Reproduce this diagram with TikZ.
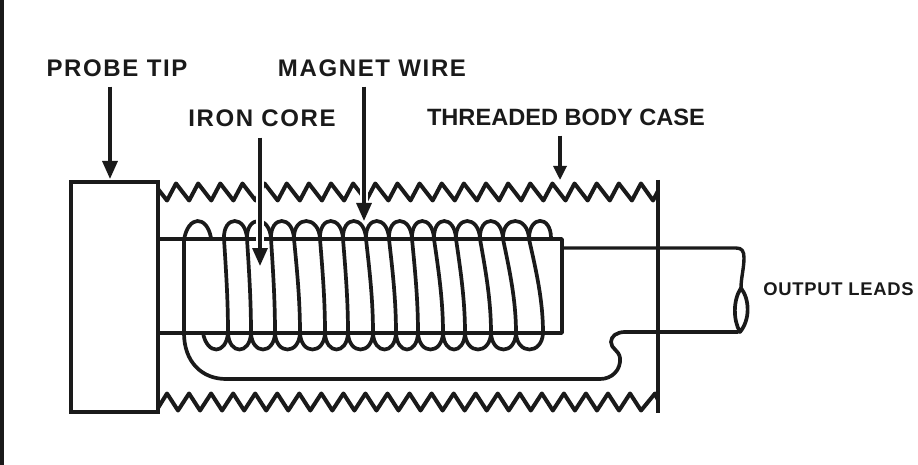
\documentclass[tikz,border=0pt]{standalone}
\usepackage{fontspec}
\setmainfont{Liberation Sans}
\usetikzlibrary{arrows.meta}
\definecolor{ink}{HTML}{1A1A1A}
\newfontfamily\lblfont[LetterSpace=6.8]{Liberation Sans Bold}
\newfontfamily\plainfont{Liberation Sans Bold}
\newfontfamily\smallfont[LetterSpace=4]{Liberation Sans Bold}
\tikzset{
  ptr/.style={draw=ink,line width=3.2pt,-{Triangle[length=18pt,width=15pt]}},
  halo/.style={draw=white,line width=8pt},
  wire/.style={draw=ink,line width=3.7pt,line cap=round,line join=round},
  body/.style={draw=ink,line width=4pt},
  thin wire/.style={draw=ink,line width=3.4pt,line join=round},
  tag/.style={text=ink,font=\lblfont\fontsize{24}{26}\selectfont,inner sep=0pt},
  plaintag/.style={text=ink,font=\plainfont\fontsize{23.6}{26}\selectfont,inner sep=0pt},
  smalltag/.style={text=ink,font=\smallfont\fontsize{18.4}{20}\selectfont,inner sep=0pt}
}
\begin{document}
\begin{tikzpicture}[x=1pt,y=-1pt]
\useasboundingbox (0,0) rectangle (918,465);
\fill[ink] (0,0) rectangle (4,465);
% threads
\draw[body,line join=round] (158,189)
  \foreach \i in {0,...,21} { -- ({167+22.14*\i},200.5) -- ({176+22.14*\i},183.5) } -- (653,200.5) -- (658,191);
\draw[body,line join=round] (158,408)
  \foreach \i in {0,...,21} { -- ({167+22.05*\i},393.5) -- ({178+22.05*\i},410.5) } -- (655,393.5) -- (658,400);
% core
\draw[thin wire] (158,239) -- (562,239) -- (562,333) -- (158,333);
% coil
\draw[wire] (211,238) .. controls (207,215) and (188,215) .. (184,240) -- (184,333)
  .. controls (184,362) and (202,379) .. (226,379) -- (600,379)
  .. controls (612,379) and (621,370) .. (620,358)
  .. controls (619,350) and (611,349) .. (611,342)
  .. controls (611,336) and (617,332) .. (625,332) -- (738,332);
\draw[wire] (203,333) .. controls (207,355) and (226,355) .. (228,333);
\foreach \a/\b/\c/\d in {224/228/247/251,247/251/271/275,271/275/294/300,294/300/320/325,320/325/343/348,343/348/366/373,366/373/389/396,389/396/412/418,412/418/434/443,434/443/456/465,456/465/480/491,480/491/503/516,503/516/529/543}{
  \draw[wire] (\c,239) .. controls (\c-1,215) and (\a-1,215) .. (\a,239)
    .. controls ({0.5*(\a+\b)},270) and (\b,300) .. (\b,333)
    .. controls (\b+1,355) and (\d-1,355) .. (\d,333);
}
\draw[wire] (551,238) .. controls (551,215) and (529,215) .. (529,239)
   .. controls (536,270) and (543,300) .. (543,333);
% output leads
\draw[thin wire] (562,248) -- (736,248) .. controls (742,248) and (744,251) .. (744,258)
  .. controls (744,268) and (741,278) .. (741,288);
\draw[wire] (741,288) .. controls (733,300) and (733,320) .. (740,332)
  .. controls (750,320) and (750,300) .. (741,288);
% case wall and tip
\draw[body] (658,180) -- (658,413);
\draw[draw=ink,line width=4.2pt,fill=white] (71,182) rectangle (158,412);
% labels
\node[tag] (probe) at (117,68) {PROBE TIP};
\node[tag] (magnet) at (372,68) {MAGNET WIRE};
\node[tag] (iron) at (262,118) {IRON CORE};
\node[plaintag] (thread) at (566,117) {THREADED BODY CASE};
\node[smalltag] (leads) at (838.5,289) {OUTPUT LEADS};
% pointers
\coordinate (probeT) at (110,179);
\coordinate (magnetT) at (364,221);
\coordinate (ironT) at (260,266);
\coordinate (threadT) at (560,180);
\draw[ptr] (probe.south -| probeT) ++(0,10) -- (probeT);
\draw[halo] (260,175) -- (260,250);
\draw[ptr] (iron.south -| ironT) ++(0,11) -- (ironT);
\draw[halo] (364,175) -- (364,203);
\draw[ptr] (magnet.south -| magnetT) ++(0,10) -- (magnetT);
\draw[draw=ink,line width=3.2pt,-{Triangle[length=14pt,width=13pt]}] (thread.south -| threadT) ++(0,10) -- (threadT);
\end{tikzpicture}
\end{document}
